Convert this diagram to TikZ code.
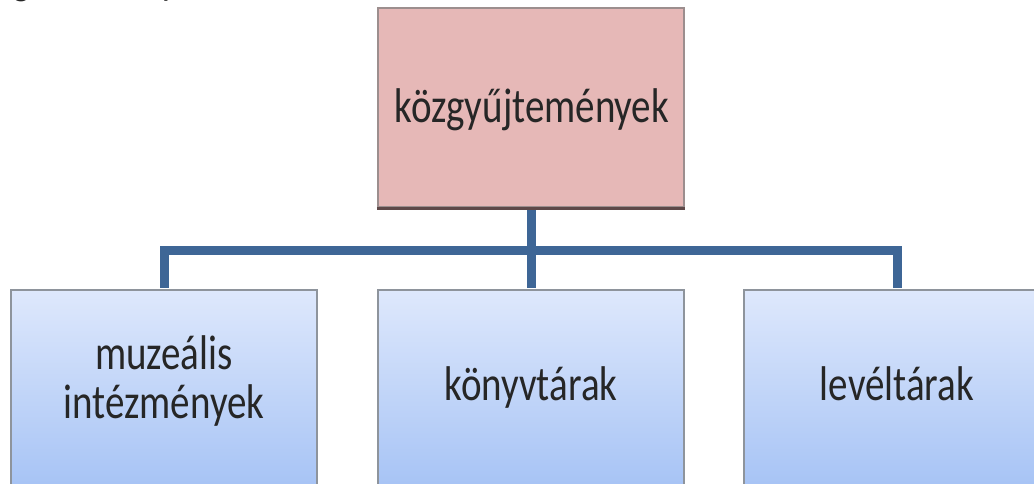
\documentclass[tikz,border=0pt]{standalone}
\usepackage{fontspec}
\setmainfont{Carlito}
\usepackage{graphicx}
\definecolor{conn}{HTML}{3E6696}
\definecolor{pinkfill}{HTML}{E6B8B7}
\definecolor{pinkedge}{HTML}{9C8E8E}
\definecolor{pinkbottom}{HTML}{5E4848}
\definecolor{bluetop}{HTML}{DEE8FC}
\definecolor{bluebot}{HTML}{A6C3F5}
\definecolor{blueedge}{HTML}{8E949C}
\tikzset{
  x=1pt, y=-1pt,
  boxbase/.style={rectangle, minimum width=306pt, minimum height=199pt, inner sep=0pt, line width=2.5pt},
  parentbox/.style={boxbase, fill=pinkfill, draw=pinkedge},
  childbox/.style={boxbase, top color=bluetop, bottom color=bluebot, draw=blueedge},
  connector/.style={draw=conn, line width=9pt},
  lbl/.style={font=\fontsize{39}{38}\selectfont, text=black!85}
}
\newcommand{\stretched}[1]{\scalebox{1}[1.25]{\begin{tabular}[b]{@{}c@{}}#1\end{tabular}}}
\begin{document}
\begin{tikzpicture}
\useasboundingbox (0,0) rectangle (1034,484);
\begin{scope}
\clip (0,0) rectangle (1034,484);
% cut-off text fragment at the top edge
\node[lbl, anchor=base west, inner sep=0pt] (frag1) at (12,-6) {\scalebox{1}[1.25]{g,}};
\node[lbl, anchor=base west, inner sep=0pt] (frag2) at (160,-6) {\scalebox{1}[1.25]{y}};

\node[parentbox] (top) at (531,107.5) {};
\draw[pinkbottom, line width=3pt] (top.south west) -- (top.south east);
\node[lbl, anchor=base] (toplbl) at (532,123) {\stretched{közgyűjtemények}};

\node[childbox] (c1) at (164,389.5) {};
\node[childbox] (c2) at (531,389.5) {};
\node[childbox] (c3) at (897,389.5) {};

\node[lbl, anchor=base] (c1lbl) at (164,418) {\stretched{muzeális\\intézmények}};
\node[lbl, anchor=base] (c2lbl) at (531,400) {\stretched{könyvtárak}};
\node[lbl, anchor=base] (c3lbl) at (897,400) {\stretched{levéltárak}};

\coordinate (j) at (531,250);
\draw[connector] ([yshift=-1.5pt]top.south) -- (j);
\draw[connector] (j) -| ([yshift=1.25pt]c1.north);
\draw[connector] (j) -- ([yshift=1.25pt]c2.north);
\draw[connector] (j) -| ([yshift=1.25pt]c3.north);
\end{scope}
\end{tikzpicture}
\end{document}
